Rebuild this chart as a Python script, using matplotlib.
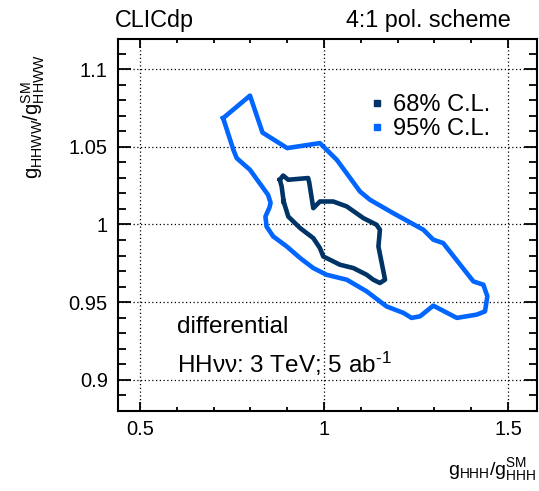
import matplotlib
matplotlib.use("Agg")
import matplotlib.pyplot as plt
from matplotlib.ticker import MultipleLocator
from matplotlib.lines import Line2D

plt.rcParams['font.family'] = ['Liberation Sans', 'DejaVu Sans']
plt.rcParams['mathtext.fontset'] = 'custom'
plt.rcParams['mathtext.rm'] = 'Liberation Sans'
plt.rcParams['mathtext.it'] = 'Liberation Sans:italic'

# 95% C.L. contour
c95_x = [0.726, 0.799, 0.833, 0.900, 0.989, 1.035, 1.098, 1.125, 1.188, 1.270, 1.297, 1.324,
         1.406, 1.433, 1.444, 1.4375, 1.415, 1.361, 1.297, 1.261, 1.238, 1.216, 1.170, 1.116,
         1.062, 1.007, 0.971, 0.935, 0.899, 0.862, 0.844, 0.841, 0.852, 0.855, 0.848, 0.799,
         0.763, 0.754, 0.726]
c95_y = [1.0685, 1.083, 1.0592, 1.0492, 1.0524, 1.0416, 1.0212, 1.0159, 1.0073, 0.9966, 0.9902, 0.988,
         0.9633, 0.9612, 0.9537, 0.944, 0.9419, 0.9398, 0.9477, 0.9408, 0.9398, 0.943, 0.9472, 0.9569,
         0.9644, 0.9676, 0.9719, 0.9784, 0.9858, 0.9923, 0.9987, 1.0051, 1.0110, 1.0140, 1.0191, 1.0352,
         1.0427, 1.048, 1.0685]

# 68% C.L. contour
c68_x = [0.880, 0.889, 0.903, 0.957, 0.960, 0.971, 0.989, 1.025, 1.062, 1.107, 1.143, 1.152,
         1.148, 1.166, 1.152, 1.134, 1.116, 1.080, 1.043, 1.016, 0.998, 0.989, 0.971, 0.935,
         0.903, 0.889, 0.891, 0.885, 0.880]
c68_y = [1.0288, 1.0315, 1.0288, 1.0299, 1.027, 1.0105, 1.0148, 1.0148, 1.0116, 1.0041, 0.9998, 0.9966,
         0.9858, 0.9644, 0.9623, 0.9644, 0.9676, 0.9719, 0.9741, 0.9773, 0.9794, 0.9848, 0.9912, 0.9977,
         1.0051, 1.0159, 1.0138, 1.0245, 1.0288]

labels = ["68% C.L.", "95% C.L."]
xtick_vals = [0.5, 1.0, 1.5]
xtick_labels = ['0.5', '1', '1.5']
ytick_vals = [0.9, 0.95, 1.0, 1.05, 1.1]
ytick_labels = ['0.9', '0.95', '1', '1.05', '1.1']
col68 = '#003366'
col95 = '#0066ff'

fig = plt.figure(figsize=(5.39, 4.91), dpi=100)
ax = fig.add_axes([0.218, 0.1635, 0.7777, 0.7565])

ax.plot(c95_x, c95_y, color=col95, lw=3.3, solid_joinstyle='round', zorder=3)
ax.plot(c68_x, c68_y, color=col68, lw=3.3, solid_joinstyle='round', zorder=4)

ax.set_xlim(0.439, 1.578)
ax.set_ylim(0.880, 1.1193)

ax.xaxis.set_minor_locator(MultipleLocator(0.1))
ax.yaxis.set_minor_locator(MultipleLocator(0.01))
ax.set_xticks(xtick_vals)
ax.set_xticklabels(xtick_labels)
ax.set_yticks(ytick_vals)
ax.set_yticklabels(ytick_labels)

ax.grid(True, which='major', linestyle=(0, (1, 2)), color='black', lw=0.9)
ax.tick_params(axis='both', which='both', direction='in', top=True, right=True,
               labelsize=14.5, width=1.3)
ax.tick_params(axis='x', which='major', length=6.5, pad=7)
ax.tick_params(axis='x', which='minor', length=3.2)
ax.tick_params(axis='y', which='major', length=9.5, pad=7)
ax.tick_params(axis='y', which='minor', length=5.5)
for s in ax.spines.values():
    s.set_linewidth(1.5)

handles = [Line2D([], [], marker='s', ls='none', color=col68, markersize=5),
           Line2D([], [], marker='s', ls='none', color=col95, markersize=5)]
ax.legend(handles, labels, loc='upper left', bbox_to_anchor=(0.601, 0.852), frameon=False,
          fontsize=17, handletextpad=0.4, labelspacing=0.07, handlelength=0.6,
          borderpad=0, borderaxespad=0)

ax.text(0.142, 0.21, 'differential', transform=ax.transAxes, fontsize=17.5, va='baseline')
ax.text(0.142, 0.1015, r'HHνν: 3 TeV; 5 ab$^{\text{-1}}$', transform=ax.transAxes, fontsize=17.5,
        va='baseline')

fig.text(115/539, 1 - 20/491, 'CLICdp', fontsize=16.8, va='center', ha='left')
fig.text(511/539, 1 - 20/491, '4:1 pol. scheme', fontsize=16.8, va='center', ha='right')

fig.text(536/539, 1 - 470/491, r'$\mathrm{g}_{\mathrm{HHH}}/\mathrm{g}^{\mathrm{SM}}_{\mathrm{HHH}}$',
         fontsize=14, ha='right', va='center')
fig.text(33/539, 1 - 54/491, r'$\mathrm{g}_{\mathrm{HHWW}}/\mathrm{g}^{\mathrm{SM}}_{\mathrm{HHWW}}$',
         fontsize=14.5, ha='center', va='top', rotation=90)

fig.savefig('out.png', dpi=100)
